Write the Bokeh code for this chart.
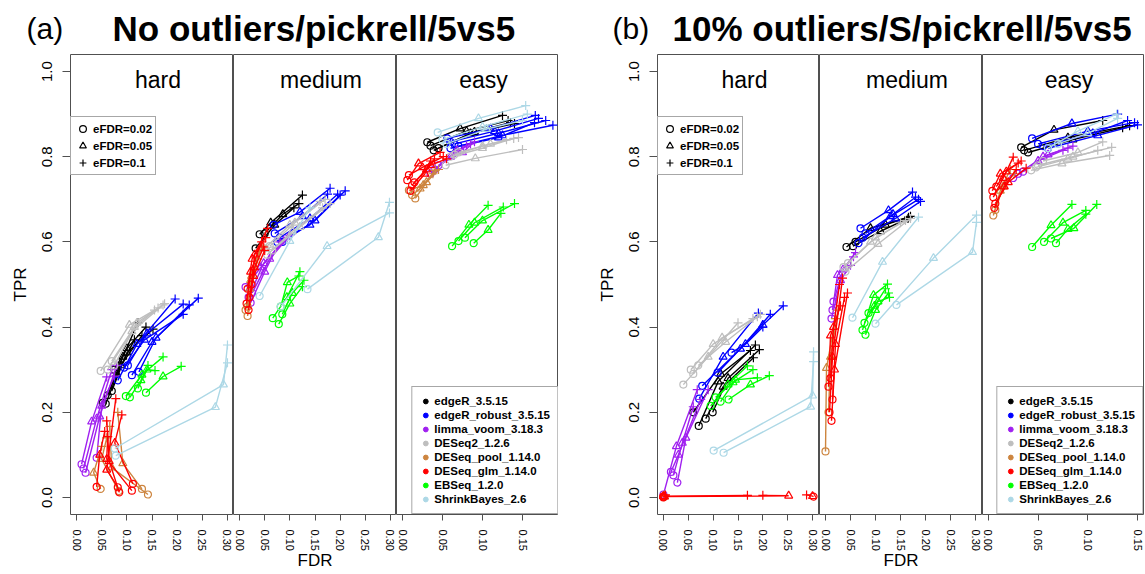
from bokeh.plotting import figure
from bokeh.layouts import row, column
from bokeh.models import Range1d, FixedTicker, PrintfTickFormatter, Label, Legend, LegendItem
from bokeh.embed import file_html
from bokeh.resources import INLINE

FONT = "Liberation Sans"

METHOD_KEYS = ["edgeR", "edgeR_robust", "limma_voom", "DESeq2", "DESeq_pool", "DESeq_glm", "EBSeq", "ShrinkBayes"]
METHOD_LABELS = ["edgeR_3.5.15", "edgeR_robust_3.5.15", "limma_voom_3.18.3", "DESeq2_1.2.6",
                 "DESeq_pool_1.14.0", "DESeq_glm_1.14.0", "EBSeq_1.2.0", "ShrinkBayes_2.6"]
COLORS = ["#000000", "#0000FF", "#A020F0", "#BEBEBE", "#CD853F", "#FF0000", "#00FF00", "#ADD8E6"]
EFDR_LABELS = ["eFDR=0.02", "eFDR=0.05", "eFDR=0.1"]
PANEL_NAMES = ["hard", "medium", "easy"]
Y_TICKS = [0.0, 0.2, 0.4, 0.6, 0.8, 1.0]
X_TICKS_WIDE = [0.0, 0.05, 0.10, 0.15, 0.20, 0.25, 0.30]
X_TICKS_EASY = [0.0, 0.05, 0.10, 0.15]
TITLE_A = ("(a)", "No outliers/pickrell/5vs5")
TITLE_B = ("(b)", "10% outliers/S/pickrell/5vs5")

# ---- (a) No outliers: each line = [eFDR 0.02, 0.05, 0.1] ----
A_HARD_FDR = {
    "edgeR": [[0.062, 0.092, 0.122], [0.07, 0.1, 0.152], [0.058, 0.088, 0.13], [0.075, 0.1, 0.138], [0.052, 0.08, 0.115]],
    "edgeR_robust": [[0.082, 0.12, 0.196], [0.102, 0.14, 0.212], [0.11, 0.15, 0.224], [0.124, 0.158, 0.242], [0.095, 0.135, 0.212]],
    "limma_voom": [[0.01, 0.03, 0.06], [0.014, 0.04, 0.07], [0.018, 0.046, 0.08], [0.04, 0.05, 0.075]],
    "DESeq2": [[0.048, 0.105, 0.155], [0.062, 0.11, 0.172], [0.07, 0.115, 0.162], [0.075, 0.12, 0.175]],
    "DESeq_pool": [[0.048, 0.034, 0.05], [0.13, 0.092, 0.082], [0.142, 0.07, 0.066], [0.084, 0.05, 0.06]],
    "DESeq_glm": [[0.04, 0.046, 0.056], [0.082, 0.06, 0.078], [0.112, 0.076, 0.09], [0.11, 0.06, 0.062], [0.085, 0.065, 0.06]],
    "EBSeq": [[0.098, 0.13, 0.172], [0.106, 0.128, 0.142], [0.122, 0.14, 0.156], [0.138, 0.172, 0.208]],
    "ShrinkBayes": [[0.076, 0.292, 0.3], [0.078, 0.276, 0.3]],
}
A_HARD_TPR = {
    "edgeR": [[0.24, 0.33, 0.41], [0.25, 0.34, 0.395], [0.22, 0.31, 0.38], [0.3, 0.35, 0.4], [0.222, 0.29, 0.37]],
    "edgeR_robust": [[0.275, 0.36, 0.466], [0.31, 0.385, 0.454], [0.287, 0.365, 0.452], [0.295, 0.375, 0.468], [0.305, 0.37, 0.43]],
    "limma_voom": [[0.078, 0.178, 0.283], [0.068, 0.185, 0.3], [0.058, 0.19, 0.31], [0.093, 0.215, 0.285]],
    "DESeq2": [[0.297, 0.405, 0.44], [0.3, 0.39, 0.452], [0.32, 0.4, 0.445], [0.31, 0.41, 0.455]],
    "DESeq_pool": [[0.02, 0.058, 0.12], [0.02, 0.08, 0.2], [0.007, 0.07, 0.167], [0.015, 0.09, 0.14]],
    "DESeq_glm": [[0.025, 0.1, 0.155], [0.024, 0.065, 0.232], [0.032, 0.128, 0.194], [0.016, 0.09, 0.143], [0.012, 0.085, 0.18]],
    "EBSeq": [[0.238, 0.288, 0.33], [0.235, 0.275, 0.31], [0.256, 0.3, 0.298], [0.246, 0.284, 0.308]],
    "ShrinkBayes": [[0.115, 0.265, 0.358], [0.098, 0.212, 0.316]],
}
A_MED_FDR = {
    "edgeR": [[0.04, 0.062, 0.125], [0.032, 0.07, 0.108], [0.05, 0.086, 0.118]],
    "edgeR_robust": [[0.068, 0.12, 0.18], [0.07, 0.125, 0.175], [0.08, 0.14, 0.195], [0.085, 0.15, 0.21], [0.075, 0.14, 0.2]],
    "limma_voom": [[0.012, 0.042, 0.088], [0.022, 0.05, 0.08], [0.018, 0.048, 0.095], [0.025, 0.06, 0.1]],
    "DESeq2": [[0.05, 0.1, 0.16], [0.06, 0.11, 0.17], [0.055, 0.105, 0.165], [0.065, 0.12, 0.18]],
    "DESeq_pool": [[0.016, 0.022, 0.04], [0.016, 0.02, 0.036], [0.012, 0.024, 0.045]],
    "DESeq_glm": [[0.016, 0.025, 0.056], [0.02, 0.03, 0.048], [0.024, 0.03, 0.052], [0.014, 0.022, 0.044], [0.018, 0.028, 0.05]],
    "EBSeq": [[0.066, 0.094, 0.12], [0.078, 0.1, 0.125], [0.082, 0.095, 0.118], [0.085, 0.105, 0.128]],
    "ShrinkBayes": [[0.04, 0.1, 0.14], [0.135, 0.276, 0.298], [0.082, 0.174, 0.298]],
}
A_MED_TPR = {
    "edgeR": [[0.618, 0.645, 0.71], [0.585, 0.64, 0.68], [0.62, 0.665, 0.69]],
    "edgeR_robust": [[0.64, 0.67, 0.726], [0.62, 0.66, 0.712], [0.61, 0.655, 0.712], [0.6, 0.65, 0.72], [0.6, 0.64, 0.71]],
    "limma_voom": [[0.494, 0.54, 0.604], [0.457, 0.53, 0.6], [0.47, 0.55, 0.61], [0.48, 0.56, 0.615]],
    "DESeq2": [[0.585, 0.64, 0.695], [0.59, 0.645, 0.7], [0.57, 0.625, 0.68], [0.58, 0.635, 0.69]],
    "DESeq_pool": [[0.448, 0.51, 0.58], [0.426, 0.49, 0.56], [0.44, 0.52, 0.59]],
    "DESeq_glm": [[0.49, 0.56, 0.632], [0.47, 0.54, 0.588], [0.5, 0.57, 0.61], [0.455, 0.53, 0.6], [0.44, 0.52, 0.58]],
    "EBSeq": [[0.421, 0.47, 0.53], [0.407, 0.455, 0.495], [0.448, 0.505, 0.52], [0.43, 0.48, 0.51]],
    "ShrinkBayes": [[0.473, 0.602, 0.68], [0.489, 0.611, 0.693], [0.448, 0.59, 0.668]],
}
A_EASY_FDR = {
    "edgeR": [[0.031, 0.072, 0.125], [0.035, 0.08, 0.132], [0.039, 0.085, 0.14], [0.045, 0.09, 0.135]],
    "edgeR_robust": [[0.056, 0.11, 0.166], [0.06, 0.115, 0.17], [0.065, 0.12, 0.179], [0.07, 0.125, 0.188], [0.06, 0.12, 0.165]],
    "limma_voom": [[0.04, 0.068, 0.085], [0.045, 0.075, 0.09], [0.035, 0.06, 0.08]],
    "DESeq2": [[0.054, 0.091, 0.15], [0.06, 0.1, 0.139], [0.065, 0.1, 0.13], [0.07, 0.11, 0.145]],
    "DESeq_pool": [[0.008, 0.026, 0.041], [0.016, 0.03, 0.045], [0.012, 0.022, 0.038]],
    "DESeq_glm": [[0.006, 0.02, 0.047], [0.008, 0.025, 0.051], [0.012, 0.03, 0.04], [0.01, 0.028, 0.035], [0.015, 0.035, 0.055]],
    "EBSeq": [[0.062, 0.083, 0.107], [0.07, 0.09, 0.126], [0.089, 0.107, 0.123], [0.078, 0.1, 0.14]],
    "ShrinkBayes": [[0.044, 0.095, 0.154], [0.05, 0.1, 0.156], [0.055, 0.105, 0.15]],
}
A_EASY_TPR = {
    "edgeR": [[0.834, 0.866, 0.897], [0.826, 0.86, 0.885], [0.815, 0.855, 0.878], [0.82, 0.858, 0.88]],
    "edgeR_robust": [[0.843, 0.866, 0.897], [0.835, 0.86, 0.89], [0.83, 0.855, 0.885], [0.825, 0.85, 0.874], [0.82, 0.845, 0.88]],
    "limma_voom": [[0.77, 0.815, 0.83], [0.78, 0.81, 0.835], [0.76, 0.8, 0.825]],
    "DESeq2": [[0.78, 0.796, 0.817], [0.8, 0.82, 0.843], [0.805, 0.825, 0.84], [0.81, 0.83, 0.845]],
    "DESeq_pool": [[0.721, 0.733, 0.768], [0.702, 0.74, 0.77], [0.71, 0.725, 0.76]],
    "DESeq_glm": [[0.745, 0.784, 0.81], [0.757, 0.775, 0.8], [0.733, 0.77, 0.795], [0.72, 0.76, 0.79], [0.74, 0.78, 0.795]],
    "EBSeq": [[0.59, 0.64, 0.686], [0.602, 0.645, 0.682], [0.597, 0.628, 0.667], [0.61, 0.65, 0.69]],
    "ShrinkBayes": [[0.857, 0.89, 0.92], [0.84, 0.87, 0.9], [0.83, 0.865, 0.885]],
}

# ---- (b) 10% outliers ----
B_HARD_FDR = {
    "edgeR": [[0.071, 0.11, 0.185], [0.099, 0.13, 0.193], [0.085, 0.12, 0.181], [0.06, 0.115, 0.175]],
    "edgeR_robust": [[0.072, 0.12, 0.191], [0.078, 0.155, 0.215], [0.109, 0.2, 0.241], [0.137, 0.165, 0.2]],
    "limma_voom": [[0.0, 0.026, 0.068], [0.02, 0.038, 0.06], [0.028, 0.045, 0.09], [0.015, 0.03, 0.075]],
    "DESeq2": [[0.04, 0.09, 0.15], [0.06, 0.118, 0.189], [0.07, 0.125, 0.195], [0.055, 0.1, 0.18]],
    "DESeq_pool": [[0.0, 0.0, 0.002], [0.001, 0.002, 0.004]],
    "DESeq_glm": [[0.0, 0.0, 0.169], [0.0, 0.252, 0.2], [0.302, 0.3, 0.288], [0.0, 0.002, 0.004]],
    "EBSeq": [[0.095, 0.13, 0.169], [0.115, 0.145, 0.189], [0.131, 0.175, 0.213], [0.105, 0.14, 0.18]],
    "ShrinkBayes": [[0.101, 0.3, 0.302], [0.121, 0.296, 0.302]],
}
B_HARD_TPR = {
    "edgeR": [[0.168, 0.272, 0.358], [0.2, 0.28, 0.347], [0.185, 0.26, 0.328], [0.2, 0.29, 0.345]],
    "edgeR_robust": [[0.232, 0.33, 0.433], [0.262, 0.349, 0.43], [0.293, 0.405, 0.45], [0.34, 0.36, 0.4]],
    "limma_voom": [[0.007, 0.12, 0.253], [0.052, 0.128, 0.213], [0.035, 0.14, 0.253], [0.06, 0.1, 0.23]],
    "DESeq2": [[0.265, 0.33, 0.41], [0.29, 0.375, 0.424], [0.31, 0.365, 0.43], [0.3, 0.36, 0.42]],
    "DESeq_pool": [[0.002, 0.003, 0.005], [0.001, 0.002, 0.004]],
    "DESeq_glm": [[0.002, 0.003, 0.005], [0.002, 0.004, 0.005], [0.002, 0.003, 0.006], [0.0, 0.002, 0.006]],
    "EBSeq": [[0.215, 0.265, 0.309], [0.225, 0.276, 0.281], [0.23, 0.265, 0.286], [0.235, 0.27, 0.3]],
    "ShrinkBayes": [[0.11, 0.239, 0.342], [0.105, 0.213, 0.319]],
}
B_MED_FDR = {
    "edgeR": [[0.042, 0.09, 0.166], [0.06, 0.12, 0.17], [0.055, 0.11, 0.165]],
    "edgeR_robust": [[0.07, 0.126, 0.174], [0.066, 0.13, 0.186], [0.075, 0.14, 0.19], [0.08, 0.135, 0.18]],
    "limma_voom": [[0.014, 0.024, 0.056], [0.012, 0.03, 0.05], [0.016, 0.035, 0.06]],
    "DESeq2": [[0.036, 0.09, 0.15], [0.045, 0.1, 0.16], [0.04, 0.105, 0.17]],
    "DESeq_pool": [[0.0, 0.002, 0.02], [0.006, 0.01, 0.025]],
    "DESeq_glm": [[0.008, 0.014, 0.034], [0.012, 0.018, 0.044], [0.006, 0.01, 0.03], [0.014, 0.02, 0.038], [0.01, 0.016, 0.028]],
    "EBSeq": [[0.074, 0.096, 0.124], [0.08, 0.1, 0.126], [0.086, 0.105, 0.128], [0.078, 0.098, 0.12]],
    "ShrinkBayes": [[0.054, 0.114, 0.186], [0.1, 0.216, 0.302], [0.142, 0.294, 0.302]],
}
B_MED_TPR = {
    "edgeR": [[0.588, 0.632, 0.658], [0.6, 0.64, 0.66], [0.59, 0.625, 0.655]],
    "edgeR_robust": [[0.632, 0.674, 0.717], [0.597, 0.66, 0.7], [0.61, 0.655, 0.695], [0.62, 0.665, 0.705]],
    "limma_voom": [[0.44, 0.522, 0.565], [0.42, 0.51, 0.545], [0.46, 0.535, 0.575]],
    "DESeq2": [[0.541, 0.6, 0.645], [0.55, 0.61, 0.65], [0.53, 0.595, 0.655]],
    "DESeq_pool": [[0.108, 0.304, 0.42], [0.2, 0.33, 0.44]],
    "DESeq_glm": [[0.2, 0.33, 0.515], [0.18, 0.3, 0.48], [0.26, 0.38, 0.45], [0.23, 0.36, 0.47], [0.28, 0.4, 0.5]],
    "EBSeq": [[0.393, 0.475, 0.501], [0.382, 0.44, 0.48], [0.433, 0.46, 0.47], [0.41, 0.45, 0.49]],
    "ShrinkBayes": [[0.422, 0.553, 0.658], [0.408, 0.562, 0.663], [0.452, 0.576, 0.646]],
}
B_EASY_FDR = {
    "edgeR": [[0.033, 0.066, 0.115], [0.036, 0.08, 0.142], [0.04, 0.085, 0.135]],
    "edgeR_robust": [[0.044, 0.084, 0.13], [0.05, 0.1, 0.147], [0.055, 0.105, 0.14], [0.06, 0.11, 0.15]],
    "limma_voom": [[0.03, 0.055, 0.08], [0.025, 0.05, 0.075], [0.035, 0.06, 0.085]],
    "DESeq2": [[0.043, 0.074, 0.122], [0.05, 0.085, 0.124], [0.055, 0.09, 0.115], [0.048, 0.08, 0.11]],
    "DESeq_pool": [[0.005, 0.012, 0.022], [0.007, 0.015, 0.026]],
    "DESeq_glm": [[0.005, 0.015, 0.025], [0.007, 0.02, 0.038], [0.004, 0.012, 0.03], [0.008, 0.018, 0.033], [0.006, 0.016, 0.028]],
    "EBSeq": [[0.044, 0.063, 0.084], [0.056, 0.075, 0.098], [0.063, 0.086, 0.109], [0.068, 0.08, 0.098]],
    "ShrinkBayes": [[0.06, 0.09, 0.129], [0.07, 0.1, 0.13]],
}
B_EASY_TPR = {
    "edgeR": [[0.822, 0.863, 0.885], [0.815, 0.845, 0.873], [0.81, 0.84, 0.868]],
    "edgeR_robust": [[0.843, 0.878, 0.9], [0.83, 0.86, 0.88], [0.825, 0.855, 0.885], [0.82, 0.85, 0.875]],
    "limma_voom": [[0.76, 0.8, 0.82], [0.75, 0.79, 0.815], [0.765, 0.805, 0.825]],
    "DESeq2": [[0.768, 0.784, 0.803], [0.78, 0.8, 0.822], [0.79, 0.81, 0.835], [0.775, 0.795, 0.815]],
    "DESeq_pool": [[0.662, 0.72, 0.77], [0.675, 0.73, 0.76]],
    "DESeq_glm": [[0.705, 0.75, 0.799], [0.69, 0.74, 0.773], [0.72, 0.76, 0.785], [0.73, 0.765, 0.79], [0.68, 0.73, 0.77]],
    "EBSeq": [[0.588, 0.639, 0.688], [0.6, 0.645, 0.674], [0.608, 0.632, 0.688], [0.597, 0.63, 0.665]],
    "ShrinkBayes": [[0.82, 0.86, 0.9], [0.83, 0.855, 0.89]],
}

# ---- layout / style ----
FRAME_H = 460
TITLE_H = 54
Y_RANGE = (-0.04, 1.04)
MARKERS = [("circle", 7), ("triangle", 8), ("cross", 9)]
FRAME_COLOR = "#505050"
NAN = float("nan")


def draw_methods(p, fdr, tpr):
    rend = {}
    for key, color in zip(METHOD_KEYS, COLORS):
        xs, ys = fdr[key], tpr[key]
        p.multi_line(xs=xs, ys=ys, line_color=color, line_width=1.4)
        rend[key] = []
        for idx, (marker, size) in enumerate(MARKERS):
            r = p.scatter(x=[l[idx] for l in xs], y=[l[idx] for l in ys], marker=marker, size=size,
                          line_color=color, fill_color=None, line_width=1.2)
            rend[key].append(r)
    return rend


def make_panel(fdr, tpr, xr, ticks, fw, name, left_border=0, right_border=0, with_y=False, xlabel=None,
               efdr_legend=False, method_legend=False):
    p = figure(frame_width=fw, frame_height=FRAME_H, x_range=Range1d(*xr), y_range=Range1d(*Y_RANGE),
               toolbar_location=None, output_backend="svg", title=None,
               y_axis_location="left" if with_y else None,
               min_border_left=left_border, min_border_right=right_border, min_border_top=0,
               min_border_bottom=50)
    p.xgrid.visible = False
    p.ygrid.visible = False
    p.outline_line_color = FRAME_COLOR
    p.outline_line_width = 1
    p.background_fill_color = "white"
    p.border_fill_color = "white"

    ax = p.xaxis[0]
    ax.ticker = FixedTicker(ticks=ticks)
    ax.formatter = PrintfTickFormatter(format="%.2f")
    ax.major_label_orientation = "vertical"
    ax.major_label_text_font = FONT
    ax.major_label_text_font_size = "11px"
    ax.major_label_text_color = "black"
    ax.major_label_standoff = 9
    ax.major_tick_out = 6
    ax.major_tick_in = 0
    ax.minor_tick_out = 0
    ax.minor_tick_in = 0
    ax.axis_line_color = None
    ax.major_tick_line_color = FRAME_COLOR
    if xlabel:
        ax.axis_label = xlabel
        ax.axis_label_text_font = FONT
        ax.axis_label_text_font_size = "17px"
        ax.axis_label_text_font_style = "normal"
        ax.axis_label_text_color = "black"
        ax.axis_label_standoff = -3

    if with_y:
        ay = p.yaxis[0]
        ay.ticker = FixedTicker(ticks=Y_TICKS)
        ay.formatter = PrintfTickFormatter(format="%.1f")
        ay.major_label_orientation = "vertical"
        ay.major_label_text_font = FONT
        ay.major_label_text_font_size = "15px"
        ay.major_label_text_color = "black"
        ay.major_label_standoff = 10
        ay.major_tick_out = 8
        ay.major_tick_in = 0
        ay.minor_tick_out = 0
        ay.minor_tick_in = 0
        ay.axis_line_color = None
        ay.major_tick_line_color = FRAME_COLOR
        ay.axis_label = "TPR"
        ay.axis_label_text_font = FONT
        ay.axis_label_text_font_size = "17px"
        ay.axis_label_text_font_style = "normal"
        ay.axis_label_text_color = "black"
        ay.axis_label_standoff = 10

    rend = draw_methods(p, fdr, tpr)

    p.add_layout(Label(x=(xr[0] + xr[1]) / 2, y=0.981, x_offset=6, text=name, text_align="center",
                       text_baseline="middle", text_font=FONT, text_font_size="23px",
                       text_color="black"))

    if efdr_legend:
        items = [LegendItem(label=lab, renderers=[r]) for lab, r in zip(EFDR_LABELS, rend["edgeR"])]
        leg = Legend(items=items, location=(0, 339), margin=0, padding=3, spacing=0,
                     label_height=17, glyph_height=17, glyph_width=17, label_standoff=2,
                     label_text_font=FONT, label_text_font_size="11.5px", label_text_font_style="bold",
                     label_text_color="black",
                     border_line_color=FRAME_COLOR, border_line_width=1, background_fill_alpha=1)
        p.add_layout(leg)

    if method_legend:
        items = []
        for lab, color in zip(METHOD_LABELS, COLORS):
            r = p.scatter(x=[NAN], y=[NAN], marker="circle", size=6, line_color=color, fill_color=color)
            items.append(LegendItem(label=lab, renderers=[r]))
        leg = Legend(items=items, location="bottom_right", margin=0, padding=7, spacing=0,
                     label_height=14, glyph_height=14, glyph_width=12, label_standoff=3,
                     label_text_font=FONT, label_text_font_size="11.5px", label_text_font_style="bold",
                     label_text_color="black",
                     border_line_color=FRAME_COLOR, border_line_width=1, background_fill_alpha=1)
        p.add_layout(leg)
    return p


def make_title(width, tag, text, tag_x, text_x):
    t = figure(width=width, height=TITLE_H, x_range=Range1d(0, width), y_range=Range1d(0, TITLE_H),
               toolbar_location=None, output_backend="svg", title=None,
               x_axis_location=None, y_axis_location=None,
               min_border=0, outline_line_color=None)
    t.xgrid.visible = False
    t.ygrid.visible = False
    t.add_layout(Label(x=tag_x, y=26, text=tag, text_font=FONT, text_font_size="30px",
                       text_baseline="middle", text_color="black"))
    t.add_layout(Label(x=text_x, y=26, text=text, text_font=FONT, text_font_size="35px",
                       text_font_style="bold", text_baseline="middle", text_color="black"))
    return t


ta = make_title(558, TITLE_A[0], TITLE_A[1], 26, 112)
tb = make_title(587, TITLE_B[0], TITLE_B[1], 54, 114)

pa1 = make_panel(A_HARD_FDR, A_HARD_TPR, (-0.012, 0.312), X_TICKS_WIDE, 163, PANEL_NAMES[0],
                 left_border=70, with_y=True, efdr_legend=True)
pa2 = make_panel(A_MED_FDR, A_MED_TPR, (-0.012, 0.312), X_TICKS_WIDE, 163, PANEL_NAMES[1], xlabel="FDR")
pa3 = make_panel(A_EASY_FDR, A_EASY_TPR, (-0.0075, 0.195), X_TICKS_EASY, 162, PANEL_NAMES[2],
                 method_legend=True)
pb1 = make_panel(B_HARD_FDR, B_HARD_TPR, (-0.012, 0.314), X_TICKS_WIDE, 162, PANEL_NAMES[0],
                 left_border=99, with_y=True, efdr_legend=True)
pb2 = make_panel(B_MED_FDR, B_MED_TPR, (-0.012, 0.314), X_TICKS_WIDE, 163, PANEL_NAMES[1], xlabel="FDR")
pb3 = make_panel(B_EASY_FDR, B_EASY_TPR, (-0.0059, 0.156), X_TICKS_EASY, 161, PANEL_NAMES[2],
                 right_border=2, method_legend=True)

layout = column(row(ta, tb), row(pa1, pa2, pa3, pb1, pb2, pb3))

open("out.html", "w").write(file_html(layout, INLINE))
